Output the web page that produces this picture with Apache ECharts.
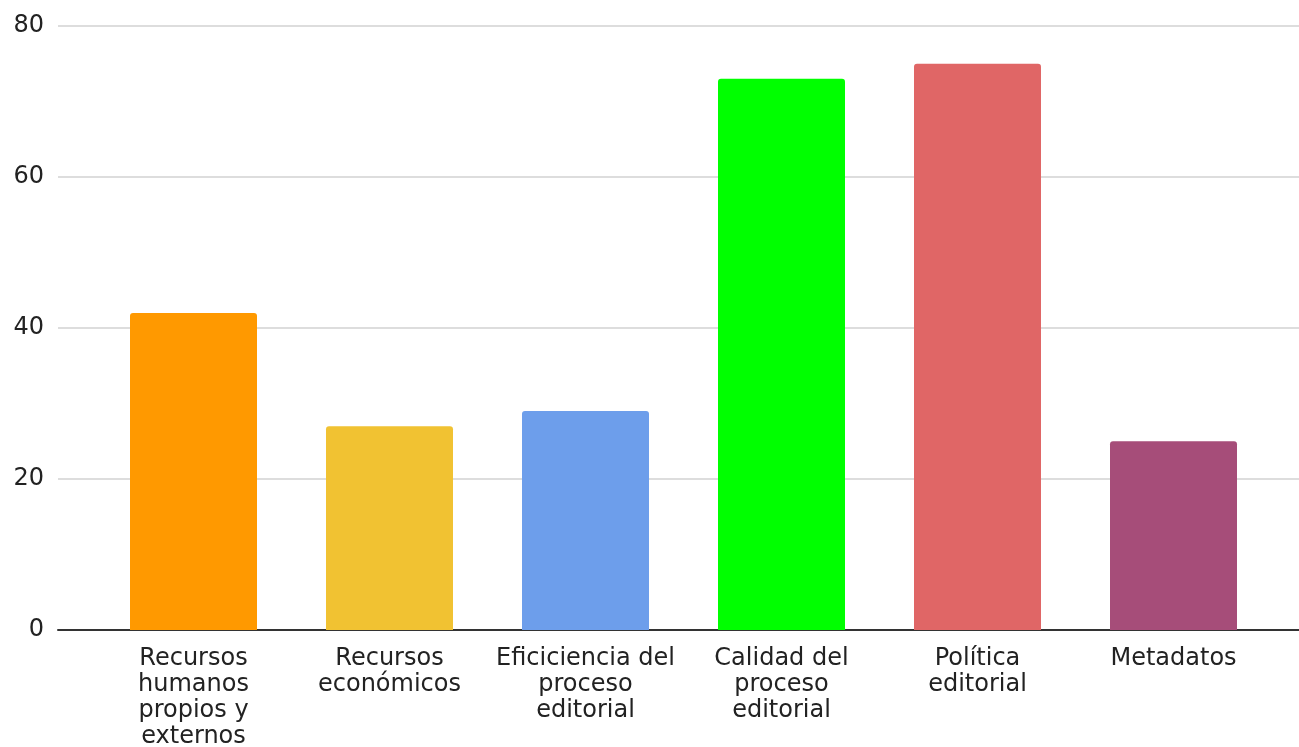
<!DOCTYPE html>
<html>
<head>
<meta charset="utf-8">
<script src="https://cdn.jsdelivr.net/npm/echarts@6/dist/echarts.min.js"></script>
<style>
html,body{margin:0;padding:0;background:#fff;}
#c{width:1299px;height:747px;}
</style>
</head>
<body>
<div id="c"></div>
<script>
const categories = [
  "Recursos\nhumanos\npropios y\nexternos",
  "Recursos\neconómicos",
  "Eficiciencia del\nproceso\neditorial",
  "Calidad del\nproceso\neditorial",
  "Política\neditorial",
  "Metadatos"
];
const values = [42, 27, 29, 73, 75, 25];
const colors = ["#ff9900", "#f1c232", "#6d9eeb", "#00ff00", "#e06666", "#a64d79"];
const yTicks = { min: 0, max: 80, interval: 20 };

const chart = echarts.init(document.getElementById('c'));
const font = "DejaVu Sans, sans-serif";
chart.setOption({
  animation: false,
  grid: [
    { left: 58, right: 0, top: 26, bottom: 117, outerBoundsMode: 'none', containLabel: false },
    { left: 95.5, right: 27.5, top: 26, bottom: 117, outerBoundsMode: 'none', containLabel: false }
  ],
  xAxis: [
    { gridIndex: 0, type: 'category', data: [], axisLine: { show: true, lineStyle: { color: '#333', width: 2 } },
      axisTick: { show: false }, axisLabel: { show: false }, splitLine: { show: false } },
    { gridIndex: 1, type: 'category', data: categories,
      axisLine: { show: false }, axisTick: { show: false },
      axisLabel: { interval: 0, color: '#222', fontFamily: font, fontSize: 24, lineHeight: 26, margin: 16 } }
  ],
  yAxis: [
    { gridIndex: 0, type: 'value', min: yTicks.min, max: yTicks.max, interval: yTicks.interval,
      axisLine: { show: false }, axisTick: { show: false },
      axisLabel: { color: '#222', fontFamily: font, fontSize: 24, margin: 14 },
      splitLine: { lineStyle: { color: '#dddddd', width: 2 } } },
    { gridIndex: 1, type: 'value', min: yTicks.min, max: yTicks.max, interval: yTicks.interval,
      show: false, splitLine: { show: false } }
  ],
  series: [{
    type: 'bar',
    xAxisIndex: 1, yAxisIndex: 1,
    barWidth: 127,
    data: values.map((v, i) => ({ value: v, itemStyle: { color: colors[i], borderRadius: [3, 3, 0, 0] } }))
  }]
});
</script>
</body>
</html>
